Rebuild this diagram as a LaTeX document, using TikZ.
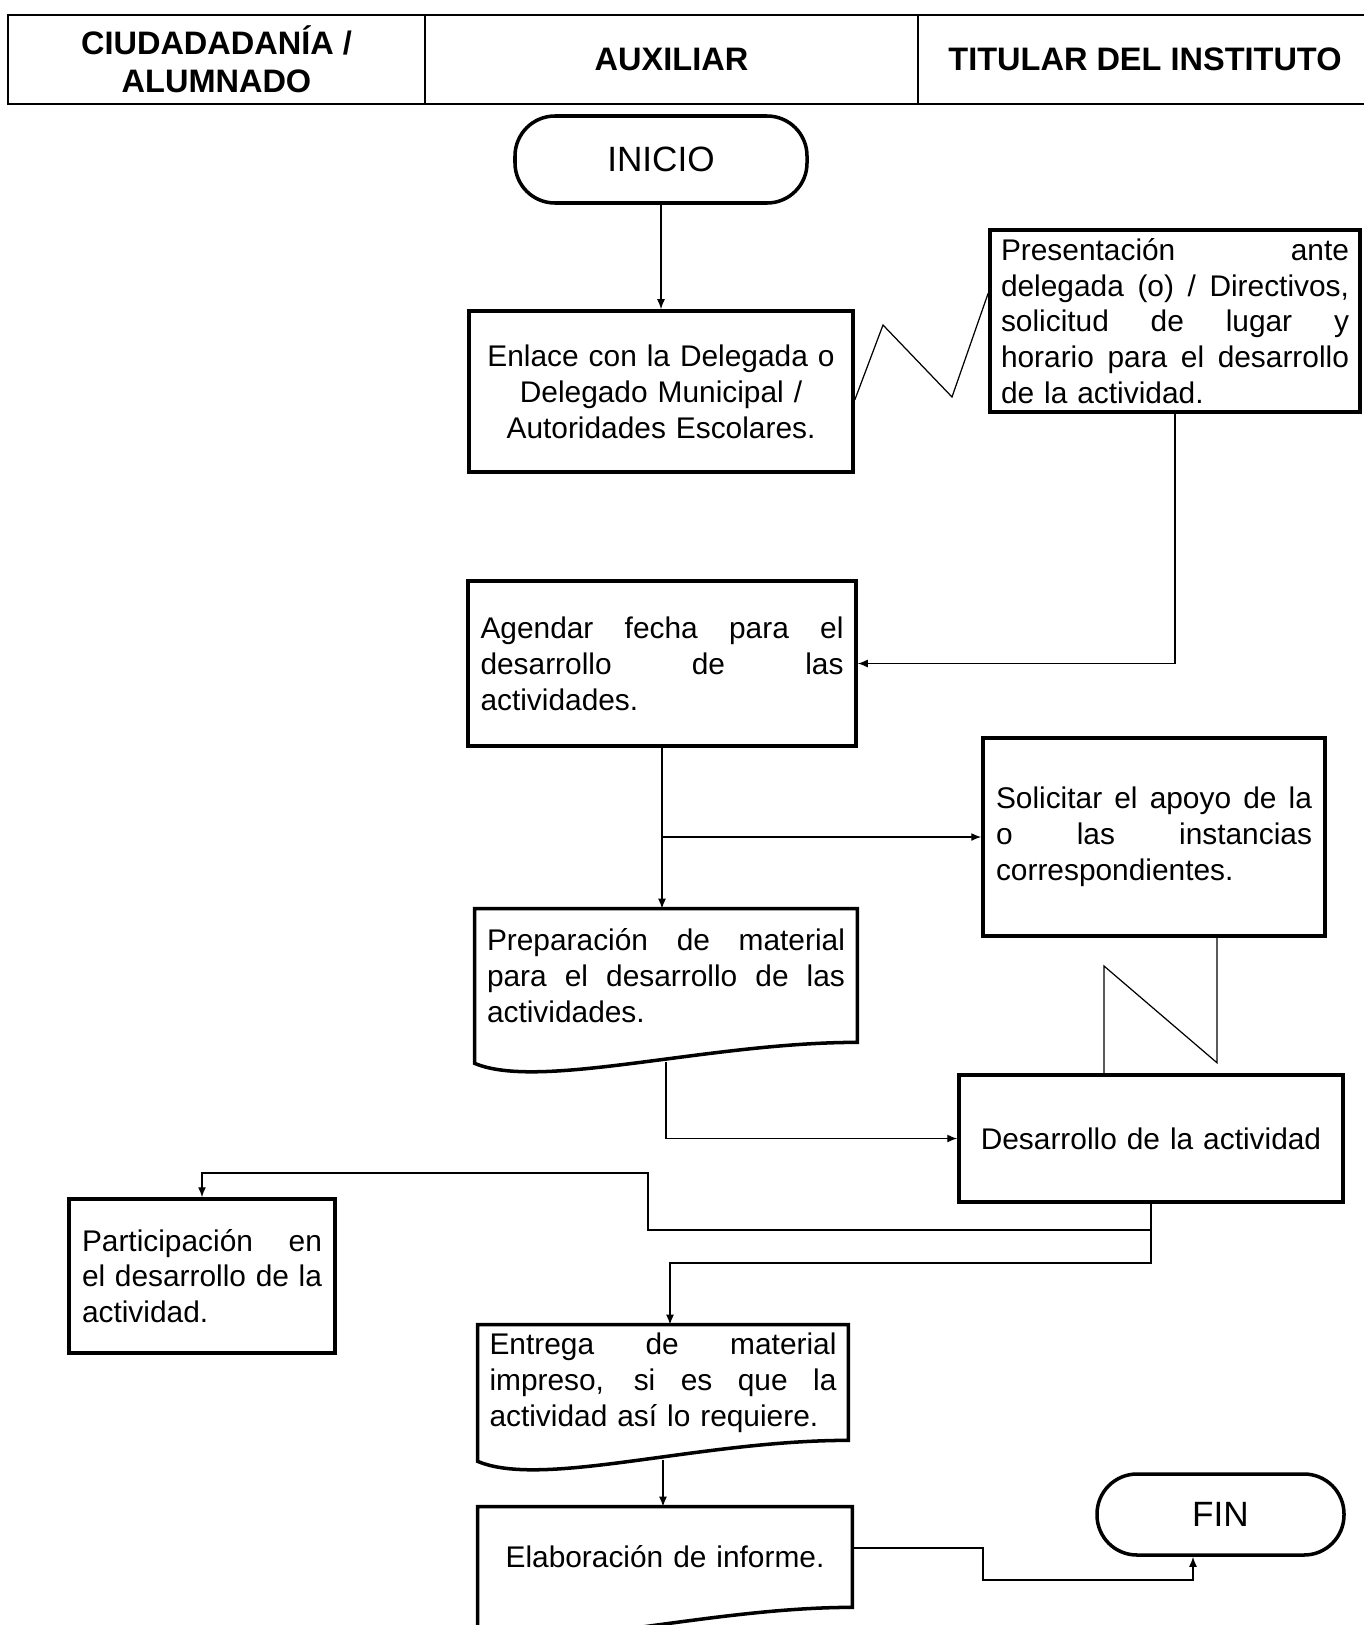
\documentclass[tikz,border=0pt]{standalone}
\usepackage{fontspec}
\setmainfont{Liberation Sans}
\usetikzlibrary{arrows.meta}
% justified line inside a text box
\newcommand{\jl}[1]{\makebox[\linewidth][s]{\spaceskip=0pt\xspaceskip=0pt\relax #1}}
% outline of a document symbol with a wavy bottom
\newcommand{\docframe}[1]{\draw[line width=2pt] (#1.north west) -- (#1.north east) -- (#1.south east) .. controls +(-3cm,0) and +(1.3cm,-0.55cm) .. ([yshift=-0.42cm]#1.south west) -- cycle;}
\begin{document}
\begin{tikzpicture}[
        lane/.style={draw, line width=1.1pt, minimum height=1.78cm, align=center, inner sep=0pt, font=\bfseries\fontsize{18.5}{21.5}\selectfont},
        box/.style={draw, line width=2pt, rectangle, inner sep=0pt, font=\fontsize{17}{20.4}\selectfont},
        term/.style={draw, line width=2pt, rounded corners=0.8cm, font=\fontsize{20}{24}\selectfont},
        doc/.style={rectangle, inner sep=0pt, font=\fontsize{17}{20.4}\selectfont},
        arrow/.style={-{Latex[length=2mm,width=1.6mm]}, line width=0.8pt},
        zig/.style={line width=0.7pt}
    ]
        \useasboundingbox (0,0) rectangle (27.28,-32.5);

        % lanes
        \node[lane, minimum width=8.34cm] (ciud) at (4.33,-1.19) {CIUDADADANÍA /\\ALUMNADO};
        \node[lane, minimum width=9.86cm] (aux) at (13.43,-1.19) {AUXILIAR};
        \node[lane, minimum width=9.08cm] (tit) at (22.9,-1.19) {TITULAR DEL INSTITUTO};

        \node[term, minimum width=5.84cm, minimum height=1.74cm] (inicio) at (13.22,-3.19) {INICIO};
        \node[box, minimum width=7.68cm, minimum height=3.22cm, text width=7.2cm, align=center] (enlace) at (13.22,-7.83) {Enlace con la Delegada o\\Delegado Municipal /\\Autoridades Escolares.};
        \node[box, minimum width=7.4cm, minimum height=3.64cm, text width=6.96cm, align=left] (pres) at (23.5,-6.42) {\jl{Presentación ante}\\\jl{delegada (o) / Directivos,}\\\jl{solicitud de lugar y}\\\jl{horario para el desarrollo}\\de la actividad.};
        \node[box, minimum width=7.76cm, minimum height=3.3cm, text width=7.26cm, align=left] (agendar) at (13.24,-13.27) {\jl{Agendar fecha para el}\\\jl{desarrollo de las}\\actividades.};
        \node[box, minimum width=6.84cm, minimum height=3.96cm, text width=6.32cm, align=left] (solicitar) at (23.08,-16.74) {\jl{Solicitar el apoyo de la}\\\jl{o las instancias}\\correspondientes.};
        \node[doc, minimum width=7.64cm, minimum height=2.66cm, text width=7.16cm, align=left] (prep) at (13.32,-19.51) {\jl{Preparación de material}\\\jl{para el desarrollo de las}\\actividades.};
        \node[box, minimum width=7.68cm, minimum height=2.54cm, text width=7.2cm, align=center] (desarrollo) at (23.02,-22.77) {Desarrollo de la actividad};
        \node[box, minimum width=5.32cm, minimum height=3.08cm, text width=4.8cm, align=left] (particip) at (4.04,-25.52) {\jl{Participación en}\\\jl{el desarrollo de la}\\actividad.};
        \node[doc, minimum width=7.4cm, minimum height=2.3cm, text width=6.94cm, align=left] (entrega) at (13.26,-27.65) {\jl{Entrega de material}\\\jl{impreso, si es que la}\\actividad así lo requiere.};
        \node[doc, minimum width=7.48cm, minimum height=2.0cm, text width=7cm, align=center] (elab) at (13.3,-31.14) {Elaboración de informe.};
        \node[term, minimum width=4.94cm, minimum height=1.62cm] (fin) at (24.41,-30.29) {FIN};

        \docframe{prep}
        \docframe{entrega}
        \docframe{elab}

        \coordinate (split) at (23.02,-24.6);

        \draw[arrow] (inicio) -- (enlace);
        \draw[zig] ([yshift=-0.17cm]enlace.east) -- (17.66,-6.5) -- (19.04,-7.94) -- ([yshift=0.56cm]pres.west);
        \draw[arrow] (pres.south) |- (agendar.east);
        \draw[arrow] (agendar.south) -- (agendar.south |- prep.north);
        \draw[arrow] (agendar.south |- solicitar.west) -- (solicitar.west);
        \draw[zig] ([xshift=1.26cm]solicitar.south) -- ++(0,-2.5) -- (22.08,-19.32) -- ([xshift=-0.94cm]desarrollo.north);
        \draw[arrow] ([yshift=-0.4cm]prep.south) |- (desarrollo.west);
        \draw[arrow] (desarrollo.south) -- (split) -| (12.96,-23.46) -| (particip.north);
        \draw[arrow] (split) -- (23.02,-25.26) -| ([xshift=0.14cm]entrega.north);
        \draw[arrow] ([yshift=-0.4cm]entrega.south) -- (entrega.south |- elab.north);
        \draw[arrow] ([yshift=0.18cm]elab.east) -| (19.66,-31.6) -| ([xshift=-0.55cm]fin.south);
    \end{tikzpicture}
\end{document}
